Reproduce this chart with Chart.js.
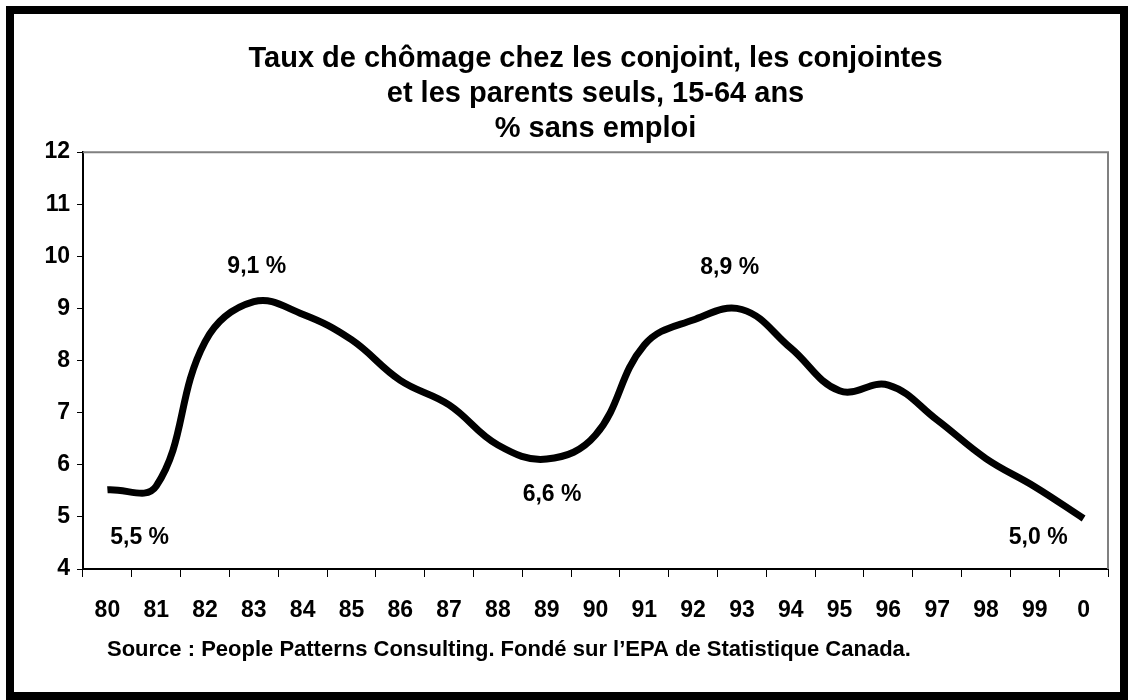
<!DOCTYPE html>
<html>
<head>
<meta charset="utf-8">
<script src="https://cdn.jsdelivr.net/npm/chart.js@4.4.0/dist/chart.umd.min.js"></script>
<style>
  html, body { margin: 0; padding: 0; background: #fff; }
  canvas { display: block; }
</style>
</head>
<body>
<canvas id="grafikChomage" width="1130" height="700"></canvas>
<script>
// Données
const annees = ['80', '81', '82', '83', '84', '85', '86', '87', '88', '89', '90',
  '91', '92', '93', '94', '95', '96', '97', '98', '99', '0'];
const tauxChomage = [5.52, 5.59, 8.36, 9.13, 8.89, 8.40, 7.62, 7.15, 6.38, 6.11, 6.57,
  8.30, 8.78, 8.98, 8.24, 7.42, 7.53, 6.86, 6.12, 5.58, 4.97];
const titreLignes = ['Taux de chômage chez les conjoint, les conjointes',
  'et les parents seuls, 15-64 ans', '% sans emploi'];
const source = 'Source : People Patterns Consulting. Fondé sur l\u2019EPA de Statistique Canada.';
// étiquettes : texte, position en index d'année, valeur
const etiquettes = [
  { texte: '5,5 %', idx: 0.66, val: 4.6 },
  { texte: '9,1 %', idx: 3.06, val: 9.8 },
  { texte: '6,6 %', idx: 9.11, val: 5.42 },
  { texte: '8,9 %', idx: 12.75, val: 9.78 },
  { texte: '5,0 %', idx: 19.07, val: 4.6 }
];

const famille = '"Liberation Sans", Arial, sans-serif';

// cadre, bordure grise du graphique, étiquettes et source
const decor = {
  id: 'decor',
  beforeDraw(chart) {
    const ctx = chart.ctx;
    ctx.save();
    ctx.fillStyle = '#fff';
    ctx.fillRect(0, 0, chart.width, chart.height);
    ctx.strokeStyle = '#000';
    ctx.lineWidth = 8;
    ctx.strokeRect(10, 10, chart.width - 16, chart.height - 14);
    ctx.restore();
  },
  beforeDatasetsDraw(chart) {
    const a = chart.chartArea;
    const ctx = chart.ctx;
    ctx.save();
    ctx.strokeStyle = '#808080';
    ctx.lineWidth = 2;
    ctx.beginPath();
    ctx.moveTo(a.left, a.top);
    ctx.lineTo(a.right, a.top);
    ctx.lineTo(a.right, a.bottom);
    ctx.stroke();
    ctx.restore();
  },
  afterDatasetsDraw(chart) {
    const ctx = chart.ctx;
    const x = chart.scales.x, y = chart.scales.y;
    ctx.save();
    ctx.fillStyle = '#000';
    ctx.font = 'bold 23px ' + famille;
    ctx.textAlign = 'center';
    ctx.textBaseline = 'middle';
    etiquettes.forEach(e => {
      ctx.fillText(e.texte, x.getPixelForValue(e.idx), y.getPixelForValue(e.val));
    });
    ctx.font = 'bold 22px ' + famille;
    ctx.textAlign = 'left';
    ctx.fillText(source, chart.chartArea.left + 24, 650);
    ctx.restore();
  }
};

const ctxChomage = document.getElementById('grafikChomage');
let grafikChomage = new Chart(ctxChomage, {
  type: 'line',
  data: {
    labels: annees,
    datasets: [{
      label: 'Taux de chômage',
      data: tauxChomage,
      borderColor: '#000',
      borderWidth: 7,
      tension: 0.4,
      pointRadius: 0,
      fill: false
    }]
  },
  options: {
    responsive: false,
    animation: false,
    layout: {
      padding: { left: 0, right: 22, top: 0, bottom: 71 }
    },
    plugins: {
      legend: { display: false },
      tooltip: { enabled: false },
      title: {
        display: true,
        fullSize: false,
        text: titreLignes,
        color: '#000',
        font: { family: famille, size: 29, weight: 'bold', lineHeight: 1.22 },
        padding: { top: 41, bottom: 5 }
      }
    },
    scales: {
      x: {
        offset: true,
        grid: { offset: true, drawOnChartArea: false, tickLength: 8, color: '#000', lineWidth: 1 },
        border: { color: '#000', width: 2 },
        ticks: {
          color: '#000',
          padding: 20,
          maxRotation: 0,
          autoSkip: false,
          font: { family: famille, size: 23, weight: 'bold' }
        },
        afterFit(scale) { scale.height = 60; }
      },
      y: {
        min: 4,
        max: 12,
        ticks: {
          stepSize: 1,
          color: '#000',
          padding: 7,
          font: { family: famille, size: 23, weight: 'bold' }
        },
        grid: { drawOnChartArea: false, tickLength: 6, color: '#000', lineWidth: 1 },
        border: { color: '#000', width: 2 },
        afterFit(scale) { scale.width = 83; }
      }
    }
  },
  plugins: [decor]
});
</script>
</body>
</html>
